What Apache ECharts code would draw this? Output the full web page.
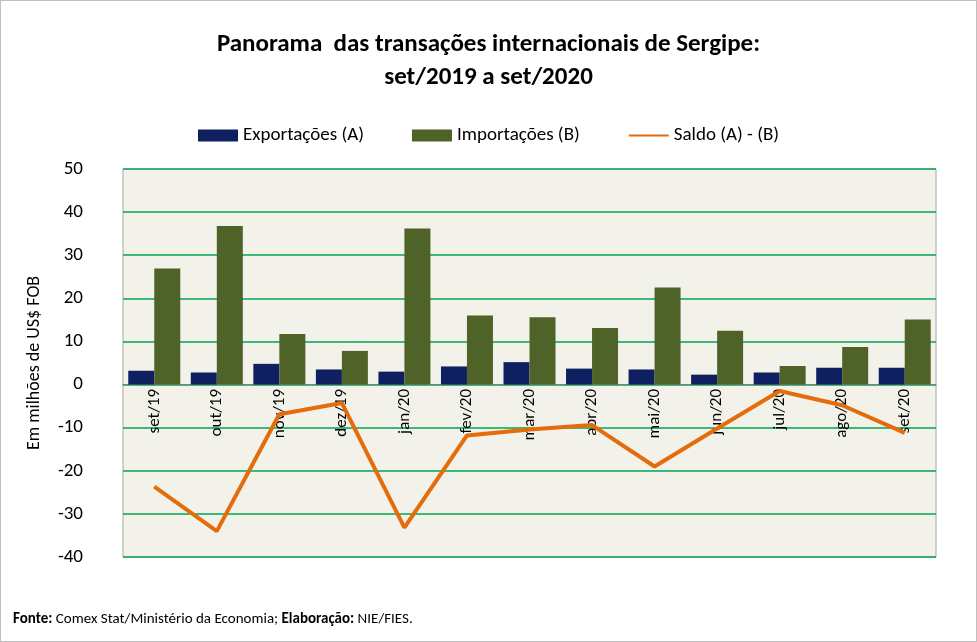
<!DOCTYPE html>
<html>
<head>
<meta charset="utf-8">
<script src="https://cdn.jsdelivr.net/npm/echarts@6/dist/echarts.min.js"></script>
<style>
  html, body { margin: 0; padding: 0; background: #fff; }
  #chart { width: 977px; height: 642px; box-sizing: border-box; border: 1px solid #bfbfbf; }
</style>
</head>
<body>
<div id="chart"></div>
<script>
// dados (milhões de US$ FOB)
var meses = ['set/19', 'out/19', 'nov/19', 'dez/19', 'jan/20', 'fev/20', 'mar/20', 'abr/20', 'mai/20', 'jun/20', 'jul/20', 'ago/20', 'set/20'];
var exportacoes = [3.2, 2.8, 4.8, 3.5, 3.0, 4.2, 5.2, 3.7, 3.5, 2.3, 2.8, 3.9, 3.9];
var importacoes = [26.9, 36.8, 11.7, 7.8, 36.2, 16.0, 15.6, 13.1, 22.5, 12.5, 4.3, 8.7, 15.1];
var saldo = [-23.7, -34.0, -6.9, -4.3, -33.2, -11.8, -10.4, -9.4, -19.0, -10.2, -1.5, -4.8, -11.2];

var chart = echarts.init(document.getElementById('chart'));
var fonte = 'Calibri, Carlito, "Open Sans", sans-serif';

var option = {
  backgroundColor: '#fff',
  textStyle: { fontFamily: fonte },
  title: {
    text: 'Panorama  das transações internacionais de Sergipe:\nset/2019 a set/2020',
    left: 'center',
    top: 22,
    textStyle: { fontSize: 25, fontWeight: 'bold', color: '#000', lineHeight: 33, fontFamily: fonte }
  },
  legend: {
    top: 120,
    left: 'center',
    itemGap: 48,
    itemWidth: 40,
    itemHeight: 12,
    textStyle: { fontSize: 19, color: '#000', fontFamily: fonte },
    data: [
      { name: 'Exportações (A)', icon: 'rect' },
      { name: 'Importações (B)', icon: 'rect' },
      { name: 'Saldo (A) - (B)', itemStyle: { opacity: 0 } }
    ]
  },
  grid: { left: 122, right: 40, top: 168, bottom: 84, show: true, backgroundColor: '#F2F2EA', borderColor: '#a6a6a6', borderWidth: 1 },
  xAxis: {
    type: 'category',
    data: meses,
    offset: -173,
    axisLine: { onZero: false, lineStyle: { color: '#808080' } },
    axisTick: { show: false },
    axisLabel: { rotate: 90, fontSize: 17, color: '#000', margin: 5, fontFamily: fonte }
  },
  yAxis: {
    type: 'value',
    min: -40,
    max: 50,
    interval: 10,
    name: 'Em milhões de US$ FOB',
    nameLocation: 'middle',
    nameGap: 80,
    nameTextStyle: { fontSize: 18, color: '#000', fontFamily: fonte },
    axisLine: { show: false },
    axisTick: { show: false },
    axisLabel: { fontSize: 19, color: '#000', margin: 40, align: 'right', fontFamily: fonte },
    splitLine: { lineStyle: { color: '#00A650', width: 1.5 } }
  },
  series: [
    {
      name: 'Exportações (A)',
      type: 'bar',
      data: exportacoes,
      barWidth: 26,
      barGap: '0%',
      itemStyle: { color: '#0E2060' }
    },
    {
      name: 'Importações (B)',
      type: 'bar',
      data: importacoes,
      barWidth: 26,
      itemStyle: { color: '#4F6228' }
    },
    {
      name: 'Saldo (A) - (B)',
      type: 'line',
      data: saldo,
      symbol: 'none',
      lineStyle: { color: '#E46C0A', width: 4 },
      itemStyle: { color: '#E46C0A' }
    }
  ],
  graphic: [{
    type: 'text',
    left: 12,
    top: 611,
    style: {
      text: '{b|Fonte:} Comex Stat/Ministério da Economia; {b|Elaboração:} NIE/FIES.',
      font: '15px ' + fonte,
      fill: '#000',
      rich: { b: { fontWeight: 'bold', fontSize: 15, fontFamily: fonte } }
    }
  }]
};

chart.setOption(option);
</script>
</body>
</html>
